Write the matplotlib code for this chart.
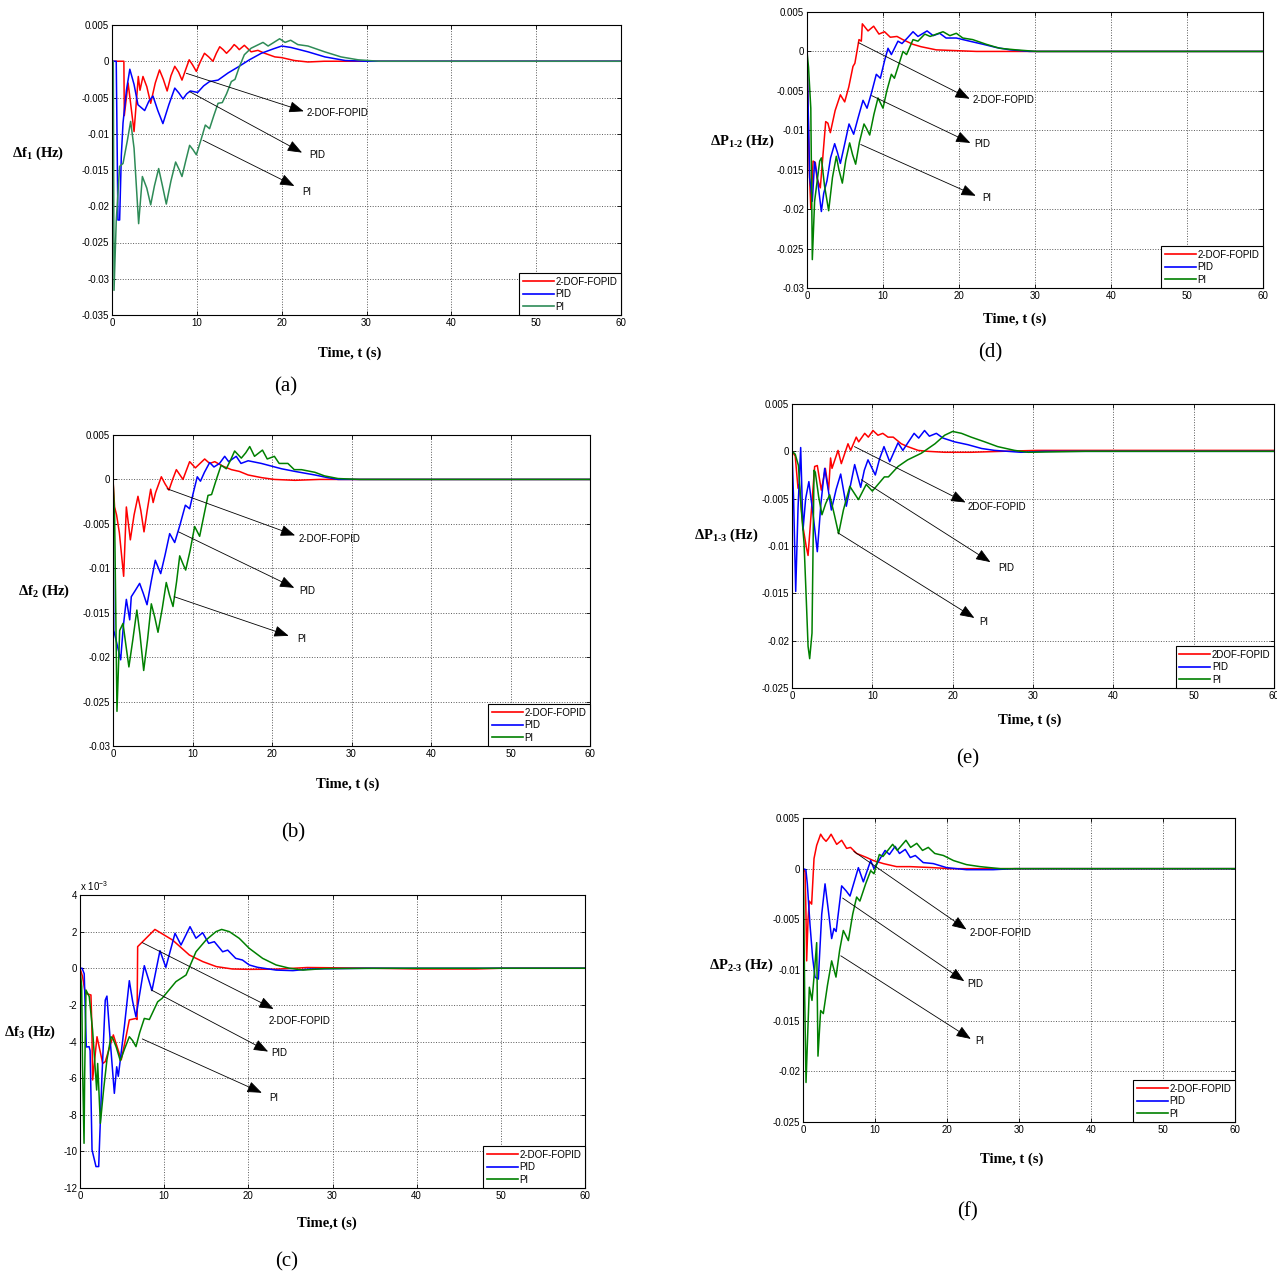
import matplotlib
matplotlib.use('Agg')
import matplotlib.pyplot as plt
from matplotlib.ticker import FixedLocator, FuncFormatter

plt.rcParams['font.family'] = ['Liberation Sans', 'DejaVu Sans']
plt.rcParams['axes.unicode_minus'] = False
plt.rcParams['mathtext.fontset'] = 'custom'
plt.rcParams['mathtext.rm'] = 'Liberation Serif'
plt.rcParams['mathtext.bf'] = 'Liberation Serif:bold'
plt.rcParams['mathtext.it'] = 'Liberation Serif:italic'

# ---------------- DATA (time in s, deviation in Hz; panel c in 1e-3 Hz) -------------
series_names = ['2-DOF-FOPID', 'PID', 'PI']
series_names_e = ['2DOF-FOPID', 'PID', 'PI']
x_ticks = [0, 10, 20, 30, 40, 50, 60]

# (a) delta f1
a_fopid_t = [0, 1.4, 1.45, 1.9, 2.6, 3.1, 3.3, 3.65, 4.1, 4.56, 5.1, 5.6, 6.05, 6.5, 6.95, 7.4, 7.85, 8.25, 8.7, 9.1,
             9.5, 9.94, 10.4, 10.9, 11.4, 11.9, 12.3, 12.7, 13.1, 13.5, 14.0, 14.4, 14.7, 15.0, 15.6, 16.4, 17.2,
             18.0, 19.2, 20.0, 21.5, 23.1, 25.0, 60]
a_fopid_v = [0, 0, -0.0075, -0.003, -0.0097, -0.0021, -0.004, -0.0021, -0.0035, -0.0058, -0.003, -0.0012, -0.0025,
             -0.0041, -0.002, -0.0007, -0.0015, -0.0026, -0.0011, 0.0002, -0.0005, -0.0014, -0.0001, 0.0011, 0.0006,
             0.0, 0.0011, 0.002, 0.0016, 0.0011, 0.0017, 0.0023, 0.002, 0.0016, 0.0022, 0.0013, 0.0015, 0.0011,
             0.0006, 0.0005, 0.0001, -0.0001, 0.0, 0]
a_pid_t = [0, 0.5, 0.7, 0.9, 1.1, 1.3, 1.7, 2.1, 2.6, 3.06, 3.85, 4.35, 4.83, 5.4, 6.0, 6.7, 7.4, 7.9, 8.37, 8.8,
           9.23, 10.1, 10.8, 11.5, 12.5, 13.7, 14.85, 16.2, 17.6, 19.0, 20.0, 21.1, 23.1, 25.1, 27.5, 30.0, 60]
a_pid_v = [0, 0, -0.0219, -0.0219, -0.013, -0.0085, -0.004, -0.0011, -0.0032, -0.006, -0.0068, -0.0055, -0.0048,
           -0.0068, -0.0086, -0.006, -0.0037, -0.0044, -0.0052, -0.0045, -0.0041, -0.0043, -0.0034, -0.0028,
           -0.0026, -0.0016, -0.0008, 0.0002, 0.0011, 0.0017, 0.0021, 0.0019, 0.0013, 0.0006, 0.0001, 0.0, 0]
a_pi_t = [0, 0.15, 0.24, 0.5, 0.9, 1.3, 1.8, 2.2, 2.6, 3.14, 3.58, 4.1, 4.56, 5.0, 5.5, 5.95, 6.4, 6.95, 7.5, 7.9,
          8.25, 8.7, 9.15, 9.55, 9.94, 10.5, 11.0, 11.5, 12.0, 12.5, 13.0, 13.5, 14.07, 14.5, 15.0, 15.6, 16.4, 17.8,
          18.4, 19.76, 20.4, 21.06, 21.9, 23.1, 25.07, 27.0, 29.0, 31.5, 60]
a_pi_v = [0, 0, -0.0316, -0.022, -0.0145, -0.0141, -0.011, -0.0083, -0.012, -0.0224, -0.0159, -0.0175, -0.0198,
          -0.0172, -0.0148, -0.0172, -0.0197, -0.0165, -0.0139, -0.0149, -0.0159, -0.0137, -0.0116, -0.0122,
          -0.0129, -0.0108, -0.0088, -0.0093, -0.0075, -0.0058, -0.0057, -0.0045, -0.0028, -0.0025, -0.0008,
          0.0009, 0.0018, 0.0026, 0.0021, 0.0031, 0.0026, 0.0029, 0.0023, 0.0021, 0.0013, 0.0006, 0.0002, 0, 0]

# (b) delta f2
b_fopid_t = [0, 0.2, 0.45, 0.8, 1.34, 1.68, 2.18, 2.65, 3.14, 3.5, 3.9, 4.3, 4.74, 5.05, 5.35, 6.08, 6.55, 7.04, 7.5,
             7.97, 8.8, 9.64, 10.36, 11.53, 12.16, 12.8, 13.8, 14.9, 15.9, 17.0, 18.7, 20.3, 22.9, 26.0, 60]
b_fopid_v = [0, -0.0031, -0.004, -0.006, -0.0109, -0.0031, -0.0068, -0.004, -0.0019, -0.0035, -0.0059, -0.0035,
             -0.0011, -0.0026, -0.0015, 0.0003, -0.0005, -0.0012, 0.0, 0.0011, 0.0, 0.002, 0.0013, 0.0023, 0.0018,
             0.002, 0.0015, 0.0011, 0.0009, 0.0005, 0.0002, 0.0, -0.0001, 0.0, 0]
b_pid_t = [0, 0.1, 0.96, 1.3, 1.68, 2.1, 2.3, 2.8, 3.35, 3.8, 4.28, 4.8, 5.32, 6.0, 6.55, 7.13, 7.76, 8.4, 9.1, 9.64,
           10.1, 10.6, 11.0, 11.5, 12.16, 12.7, 13.4, 14.05, 14.55, 15.5, 16.1, 17.0, 18.66, 21.2, 22.9, 25.4, 27.0,
           28.3, 60]
b_pid_v = [0, -0.017, -0.0203, -0.0165, -0.0135, -0.0158, -0.0132, -0.0125, -0.0117, -0.0128, -0.0141, -0.0115,
           -0.0091, -0.0106, -0.0085, -0.0061, -0.0071, -0.0052, -0.0029, -0.0033, -0.0015, 0.0003, -0.0002, 0.0008,
           0.0019, 0.0014, 0.0018, 0.0026, 0.002, 0.0026, 0.0018, 0.0021, 0.0018, 0.0012, 0.0009, 0.0005, 0.0002,
           0.0, 0]
b_pi_t = [0, 0.2, 0.5, 0.84, 1.26, 1.6, 2.0, 2.5, 3.0, 3.4, 3.86, 4.35, 4.82, 5.25, 5.66, 6.2, 6.7, 7.1, 7.55, 8.0,
          8.39, 8.8, 9.14, 9.7, 10.27, 10.9, 11.4, 11.95, 12.4, 13.0, 13.6, 14.25, 14.8, 15.3, 16.14, 16.7, 17.2,
          17.8, 18.8, 19.4, 20.3, 20.9, 22.0, 22.8, 23.7, 25.4, 26.6, 28.3, 31.0, 60]
b_pi_v = [0, -0.004, -0.0261, -0.017, -0.0162, -0.0185, -0.0211, -0.018, -0.0147, -0.0175, -0.0215, -0.018, -0.014,
          -0.0155, -0.0172, -0.0145, -0.0116, -0.013, -0.0143, -0.0115, -0.0086, -0.0095, -0.0102, -0.008, -0.0053,
          -0.0064, -0.0042, -0.0018, -0.0017, 0.0, 0.0016, 0.0012, 0.0022, 0.0032, 0.0024, 0.003, 0.0037, 0.0026,
          0.0033, 0.0023, 0.0026, 0.0018, 0.0018, 0.0011, 0.0011, 0.0008, 0.0004, 0.0001, 0.0, 0]

# (c) delta f3  (values in 1e-3 Hz)
c_fopid_t = [0, 0.3, 0.63, 1.3, 1.4, 1.5, 2.02, 2.7, 3.0, 3.96, 4.9, 5.4, 5.86, 6.65, 6.78, 6.85, 8.9, 11.0, 13.0,
             14.6, 16.2, 18.1, 20.1, 23.3, 27.0, 35.0, 40.0, 47.0, 50.0, 60]
c_fopid_v = [0, -0.45, -1.37, -1.46, -3.0, -6.1, -3.74, -5.2, -5.1, -3.64, -5.0, -3.9, -2.82, -2.74, -2.8, 1.18,
             2.12, 1.54, 0.72, 0.36, 0.09, -0.04, -0.06, -0.05, 0.04, 0.0, -0.04, -0.04, 0.0, 0]
c_pid_t = [0, 0.25, 0.5, 0.75, 1.08, 1.2, 1.43, 1.9, 2.22, 2.6, 3.0, 3.2, 3.6, 4.08, 4.36, 4.55, 5.27, 5.86, 6.25,
           6.65, 7.64, 8.55, 9.5, 10.2, 11.29, 12.0, 13.07, 13.78, 14.57, 15.29, 15.96, 16.95, 17.55, 18.5, 19.3,
           20.1, 21.1, 23.3, 25.3, 27.3, 34.0, 60]
c_pid_v = [0, 0, -0.3, -4.3, -4.28, -4.5, -9.92, -10.83, -10.83, -6.0, -1.74, -1.52, -4.0, -6.83, -5.38, -5.9, -3.19,
           -0.68, -1.8, -2.65, 0.14, -1.22, 0.96, 0.05, 1.91, 1.27, 2.27, 1.64, 1.94, 1.36, 1.45, 0.9, 0.99, 0.54,
           0.45, 0.18, 0.05, -0.1, -0.13, -0.04, 0, 0]
c_pi_t = [0, 0.2, 0.3, 0.48, 0.55, 0.71, 1.1, 1.5, 1.98, 2.1, 2.42, 2.8, 3.2, 3.68, 3.9, 4.3, 4.79, 5.3, 5.86, 6.25,
          6.65, 7.1, 7.64, 8.24, 9.23, 9.74, 11.4, 12.6, 13.78, 14.97, 16.16, 16.83, 17.74, 18.93, 20.1, 21.7,
          23.3, 24.9, 26.5, 29.0, 37.0, 60]
c_pi_v = [0, -1.0, -5.3, -9.56, -6.0, -1.19, -1.55, -3.4, -6.65, -5.2, -8.47, -6.65, -5.0, -3.74, -3.83, -4.3,
          -5.05, -4.4, -3.74, -3.95, -4.28, -3.5, -2.74, -2.8, -1.83, -1.65, -0.73, -0.37, 0.9, 1.54, 2.0, 2.12,
          2.0, 1.63, 1.09, 0.54, 0.18, 0.0, -0.1, -0.02, 0, 0]

# (d) delta P1-2
d_fopid_t = [0, 0.3, 0.5, 0.8, 1.1, 1.3, 1.75, 2.46, 2.75, 3.07, 3.7, 4.39, 4.96, 5.5, 6.05, 6.3, 6.84, 7.15, 7.28,
             8.03, 8.77, 9.47, 10.2, 10.96, 11.84, 12.6, 13.95, 15.0, 17.0, 19.6, 22.3, 60]
d_fopid_v = [0, -0.015, -0.0199, -0.0139, -0.0141, -0.016, -0.0173, -0.0089, -0.0091, -0.0103, -0.0075, -0.0055,
             -0.0064, -0.0045, -0.0019, -0.0015, 0.0015, 0.0013, 0.0035, 0.0026, 0.0032, 0.0022, 0.0025, 0.0018,
             0.0019, 0.0015, 0.0009, 0.0006, 0.0002, 0.0001, 0, 0]
d_pid_t = [0, 0.35, 0.7, 1.0, 1.3, 1.89, 2.2, 2.63, 3.1, 3.64, 4.0, 4.39, 4.9, 5.53, 6.14, 6.7, 7.37, 7.9, 8.5, 9.12,
           9.65, 10.2, 10.66, 11.1, 11.97, 12.5, 13.2, 13.95, 14.6, 15.8, 16.6, 17.46, 18.3, 19.65, 21.4, 23.2,
           24.9, 26.7, 29.3, 60]
d_pid_v = [0, -0.016, -0.019, -0.014, -0.0156, -0.0203, -0.018, -0.0164, -0.0135, -0.0117, -0.0128, -0.0142,
           -0.012, -0.0092, -0.0105, -0.0085, -0.0062, -0.0072, -0.0052, -0.0029, -0.0034, -0.0012, 0.0004,
           -0.0004, 0.0013, 0.001, 0.0017, 0.0025, 0.0019, 0.0026, 0.002, 0.0023, 0.0017, 0.0017, 0.0013, 0.0009,
           0.0005, 0.0002, 0.0, 0]
d_pi_t = [0, 0.2, 0.5, 0.7, 1.0, 1.67, 1.89, 2.3, 2.85, 3.35, 3.86, 4.2, 4.65, 5.1, 5.61, 6.0, 6.4, 6.9, 7.5, 7.85,
          8.25, 8.8, 9.34, 10.0, 10.5, 11.1, 11.5, 12.63, 13.1, 13.95, 14.6, 15.5, 16.2, 17.9, 18.8, 19.65, 20.5,
          21.8, 23.6, 25.35, 27.5, 30.2, 60]
d_pi_v = [0, -0.002, -0.0072, -0.0264, -0.019, -0.0139, -0.0135, -0.017, -0.0202, -0.016, -0.0133, -0.015, -0.0167,
          -0.0138, -0.0116, -0.0131, -0.0143, -0.0115, -0.0092, -0.0098, -0.0106, -0.008, -0.0059, -0.0072, -0.005,
          -0.0029, -0.0034, 0.0, -0.0004, 0.0015, 0.0013, 0.0022, 0.0019, 0.0025, 0.002, 0.0023, 0.0017, 0.0015,
          0.0009, 0.0004, 0.0002, 0.0, 0]

# (e) delta P1-3
e_fopid_t = [0, 0.4, 0.75, 0.9, 1.37, 1.78, 2.0, 2.82, 3.15, 3.65, 4.15, 4.56, 4.8, 4.98, 5.73, 6.14, 6.97, 7.3, 8.0,
             8.3, 9.05, 9.5, 10.08, 10.7, 11.3, 11.95, 12.6, 13.6, 14.4, 15.7, 16.9, 19.0, 22.3, 26.1, 30.5, 60]
e_fopid_v = [0, -0.0005, -0.0039, -0.0035, -0.008, -0.0101, -0.011, -0.0016, -0.0015, -0.0041, -0.0018, -0.0041,
             -0.0007, -0.0018, 0.0001, -0.0013, 0.0008, 0.0001, 0.0015, 0.001, 0.0019, 0.0015, 0.0022, 0.0017,
             0.0019, 0.0015, 0.0015, 0.0008, 0.0005, 0.0001, 0.0, -0.0001, -0.0001, 0.0, 0.0001, 0.0001]
e_pid_t = [0, 0.2, 0.46, 0.75, 1.08, 1.37, 1.7, 2.1, 2.6, 3.15, 3.6, 4.07, 4.5, 4.9, 5.5, 6.06, 6.76, 7.3, 7.8, 8.55,
           9.0, 9.46, 10.37, 10.9, 11.45, 12.16, 13.2, 13.8, 15.2, 15.77, 16.5, 17.1, 17.97, 18.8, 20.25, 21.9,
           23.6, 25.2, 28.5, 31.5, 60]
e_pid_v = [0, -0.0051, -0.0148, -0.006, 0.0004, -0.0083, -0.005, -0.0032, -0.0065, -0.0106, -0.0055, -0.0018,
           -0.004, -0.0062, -0.004, -0.0024, -0.0058, -0.0035, -0.0014, -0.0038, -0.002, -0.0009, -0.0025, -0.0008,
           0.0005, -0.0011, 0.0009, 0.0001, 0.0019, 0.0014, 0.0022, 0.0016, 0.0019, 0.0014, 0.001, 0.0007, 0.0003,
           0.0001, -0.0001, 0.0, 0.0]
e_pi_t = [0, 0.4, 0.8, 1.16, 1.5, 1.78, 2.0, 2.2, 2.49, 2.74, 2.9, 3.32, 3.73, 4.2, 4.69, 5.3, 5.8, 6.4, 7.2, 8.27,
          9.24, 10.0, 11.5, 12.0, 13.2, 14.4, 16.1, 17.8, 19.0, 20.0, 21.1, 22.3, 24.0, 25.6, 27.7, 29.4, 36.5, 60]
e_pi_v = [0, -0.0003, -0.0015, -0.0062, -0.0097, -0.0157, -0.0206, -0.0219, -0.0192, -0.002, -0.0022, -0.0048,
          -0.0067, -0.0055, -0.0046, -0.0068, -0.0087, -0.0062, -0.0037, -0.0051, -0.0035, -0.0042, -0.0027,
          -0.0027, -0.0016, -0.0009, -0.0002, 0.0008, 0.0017, 0.0021, 0.0019, 0.0015, 0.001, 0.0005, 0.0001,
          -0.0001, 0.0, 0]

# (f) delta P2-3
f_fopid_t = [0, 0.28, 0.4, 0.51, 0.7, 0.88, 1.2, 1.53, 1.9, 2.45, 2.8, 3.2, 3.55, 3.9, 4.68, 5.37, 6.06, 6.6, 7.45,
             8.15, 8.84, 9.77, 11.16, 13.0, 14.9, 18.1, 20.4, 60]
f_fopid_v = [0, -0.0003, -0.004, -0.0091, -0.005, -0.0032, -0.0035, 0.001, 0.0023, 0.0034, 0.003, 0.0027, 0.003,
             0.0034, 0.0024, 0.0028, 0.002, 0.0021, 0.0015, 0.0013, 0.0011, 0.0008, 0.0005, 0.0002, 0.0002, 0.0001,
             0, 0]
f_pid_t = [0, 0.4, 0.6, 0.97, 1.34, 1.67, 2.13, 2.6, 3.06, 3.5, 3.98, 4.3, 4.6, 5.37, 6.0, 6.53, 7.69, 8.38, 9.4,
           9.86, 11.4, 12.0, 12.8, 13.4, 14.2, 14.9, 15.6, 16.7, 18.1, 19.95, 22.7, 26.4, 29.4, 60]
f_pid_v = [0, -0.0001, -0.0015, -0.0055, -0.0088, -0.0107, -0.0109, -0.0045, -0.0015, -0.004, -0.0069, -0.0059,
           -0.0062, -0.0017, -0.0022, -0.0027, 0.0001, -0.0013, 0.0008, 0.0, 0.0018, 0.0014, 0.0022, 0.0015, 0.0019,
           0.0011, 0.0013, 0.0006, 0.0005, 0.0001, -0.0001, -0.0001, 0, 0]
f_pi_t = [0, 0.1, 0.23, 0.42, 0.88, 1.25, 1.55, 1.9, 2.08, 2.45, 2.82, 3.4, 3.98, 4.58, 5.1, 5.6, 6.3, 6.9, 7.45,
          7.9, 8.7, 9.4, 9.86, 10.6, 11.1, 12.45, 13.1, 14.3, 14.95, 15.8, 16.6, 17.4, 18.3, 19.5, 20.9, 22.7, 24.6,
          27.4, 60]
f_pi_v = [0, -0.0029, -0.0125, -0.0211, -0.0117, -0.013, -0.0105, -0.0073, -0.0185, -0.014, -0.0143, -0.0115,
          -0.0091, -0.0107, -0.008, -0.0061, -0.0071, -0.0045, -0.0028, -0.0032, -0.0015, -0.0002, -0.0005, 0.0014,
          0.0012, 0.0024, 0.0018, 0.0028, 0.0021, 0.0025, 0.0018, 0.0021, 0.0015, 0.0013, 0.0008, 0.0004, 0.0002,
          0, 0]

# annotation arrows: (start t, start v) -> (end t, end v), label at (t, v)
a_arrows = [((8.76, -0.00166), (22.6, -0.0069), (22.9, -0.0072)),
            ((9.16, -0.0042), (22.4, -0.0126), (23.2, -0.0129)),
            ((10.73, -0.0109), (21.5, -0.0172), (22.4, -0.0180))]
b_arrows = [((6.8, -0.00105), (22.9, -0.0063), (23.4, -0.0067)),
            ((8.25, -0.0059), (22.8, -0.0122), (23.4, -0.0126)),
            ((7.7, -0.0132), (22.1, -0.0176), (23.2, -0.0180))]
c_arrows = [((7.4, 1.4), (23.0, -2.22), (22.45, -2.88)),
            ((8.45, -1.18), (22.35, -4.55), (22.7, -4.64)),
            ((7.4, -3.86), (21.6, -6.8), (22.5, -7.07))]
d_arrows = [((6.8, 0.0011), (21.4, -0.0060), (21.8, -0.0062)),
            ((8.5, -0.0056), (21.5, -0.0116), (22.07, -0.0118)),
            ((7.07, -0.0118), (22.2, -0.0183), (23.1, -0.0186))]
e_arrows = [((7.77, 0.0005), (21.6, -0.0054), (21.9, -0.0059)),
            ((8.63, -0.0030), (24.7, -0.0117), (25.7, -0.0123)),
            ((5.7, -0.0086), (22.7, -0.0176), (23.3, -0.0180))]
f_arrows = [((7.06, 0.0017), (22.7, -0.0060), (23.2, -0.0063)),
            ((5.5, -0.0029), (22.4, -0.0111), (22.8, -0.0114)),
            ((5.25, -0.0086), (23.3, -0.0168), (23.9, -0.0170))]

a_yticks = [-0.035, -0.03, -0.025, -0.02, -0.015, -0.01, -0.005, 0, 0.005]
b_yticks = [-0.03, -0.025, -0.02, -0.015, -0.01, -0.005, 0, 0.005]
c_yticks = [-12, -10, -8, -6, -4, -2, 0, 2, 4]
d_yticks = [-0.03, -0.025, -0.02, -0.015, -0.01, -0.005, 0, 0.005]
e_yticks = [-0.025, -0.02, -0.015, -0.01, -0.005, 0, 0.005]
f_yticks = [-0.025, -0.02, -0.015, -0.01, -0.005, 0, 0.005]

# ---------------- LAYOUT ----------------
W, H = 1277, 1275
fig = plt.figure(figsize=(W / 100, H / 100), dpi=100)

RED, BLUE = '#ff0000', '#0000ff'

panels = [
    dict(box=(112, 25, 621, 315), data=[(a_fopid_t, a_fopid_v), (a_pid_t, a_pid_v), (a_pi_t, a_pi_v)],
         arrows=a_arrows, yticks=a_yticks, names=series_names, green='#2e8b57',
         ylab=r'$\mathbf{\Delta f_1\ (Hz)}$', ylab_xy=(38, 153), xlab='Time, t (s)', xlab_xy=(350, 353),
         cap='(a)', cap_xy=(286, 387)),
    dict(box=(113, 435, 590, 746), data=[(b_fopid_t, b_fopid_v), (b_pid_t, b_pid_v), (b_pi_t, b_pi_v)],
         arrows=b_arrows, yticks=b_yticks, names=series_names, green='#008000',
         ylab=r'$\mathbf{\Delta f_2\ (Hz)}$', ylab_xy=(44, 591), xlab='Time, t (s)', xlab_xy=(348, 784),
         cap='(b)', cap_xy=(293, 833)),
    dict(box=(80, 895, 585, 1188), data=[(c_fopid_t, c_fopid_v), (c_pid_t, c_pid_v), (c_pi_t, c_pi_v)],
         arrows=c_arrows, yticks=c_yticks, names=series_names, green='#008000',
         ylab=r'$\mathbf{\Delta f_3\ (Hz)}$', ylab_xy=(30, 1032), xlab='Time,t (s)', xlab_xy=(327, 1223),
         cap='(c)', cap_xy=(287, 1262)),
    dict(box=(807, 12, 1263, 288), data=[(d_fopid_t, d_fopid_v), (d_pid_t, d_pid_v), (d_pi_t, d_pi_v)],
         arrows=d_arrows, yticks=d_yticks, names=series_names, green='#008000',
         ylab=r'$\mathbf{\Delta P_{1\text{-}2}\ (Hz)}$', ylab_xy=(742, 141), xlab='Time, t (s)',
         xlab_xy=(1015, 319), cap='(d)', cap_xy=(990, 353)),
    dict(box=(792, 404, 1274, 688), data=[(e_fopid_t, e_fopid_v), (e_pid_t, e_pid_v), (e_pi_t, e_pi_v)],
         arrows=e_arrows, yticks=e_yticks, names=series_names_e, green='#008000',
         ylab=r'$\mathbf{\Delta P_{1\text{-}3}\ (Hz)}$', ylab_xy=(726, 535), xlab='Time, t (s)',
         xlab_xy=(1030, 720), cap='(e)', cap_xy=(968, 759)),
    dict(box=(803, 818, 1235, 1122), data=[(f_fopid_t, f_fopid_v), (f_pid_t, f_pid_v), (f_pi_t, f_pi_v)],
         arrows=f_arrows, yticks=f_yticks, names=series_names, green='#008000',
         ylab=r'$\mathbf{\Delta P_{2\text{-}3}\ (Hz)}$', ylab_xy=(741, 965), xlab='Time, t (s)',
         xlab_xy=(1012, 1159), cap='(f)', cap_xy=(967, 1212)),
]


def fmt(v, p):
    r = round(v, 5) + 0.0
    if r == 0:
        return '0'
    return f'{r:g}'


def ftext(x, y, s, **kw):
    fig.text(x / W, 1 - y / H, s, ha='center', va='center', **kw)


for P in panels:
    l, t, r, b = P['box']
    ax = fig.add_axes([l / W, 1 - b / H, (r - l) / W, (b - t) / H])
    colors = [RED, BLUE, P['green']]
    for (tt, vv), c, name in zip(P['data'], colors, P['names']):
        assert len(tt) == len(vv), (name, len(tt), len(vv))
        ax.plot(tt, vv, color=c, lw=1.1, label=name, solid_joinstyle='round')
    yt = P['yticks']
    ax.set_xlim(0, 60)
    ax.set_ylim(yt[0], yt[-1])
    ax.xaxis.set_major_locator(FixedLocator(x_ticks))
    ax.yaxis.set_major_locator(FixedLocator(yt))
    ax.yaxis.set_major_formatter(FuncFormatter(fmt))
    ax.xaxis.set_major_formatter(FuncFormatter(fmt))
    ax.tick_params(direction='in', length=3, width=0.6, labelsize=7, top=True, right=True, pad=2)
    ax.grid(True, linestyle=':', color='0.35', linewidth=0.7)
    for s in ax.spines.values():
        s.set_linewidth(0.8)
        s.set_color('black')
    for (s0, e0, lab), name in zip(P['arrows'], P['names']):
        ax.annotate('', xy=e0, xytext=s0,
                    arrowprops=dict(arrowstyle='-|>,head_length=0.9,head_width=0.35', color='black', lw=0.6,
                                    shrinkA=0, shrinkB=0, mutation_scale=10))
        ax.text(lab[0], lab[1], name, fontsize=7, ha='left', va='center')
    leg = ax.legend(loc='lower right', fontsize=7, borderaxespad=0, fancybox=False, edgecolor='black',
                    framealpha=1, handlelength=3.2, handletextpad=0.2, labelspacing=0.25, borderpad=0.35)
    leg.get_frame().set_linewidth(0.8)
    for h in leg.get_lines():
        h.set_linewidth(1.2)
    ftext(*P['ylab_xy'], P['ylab'], fontsize=10.5)
    ftext(*P['xlab_xy'], P['xlab'], fontsize=10.5, family='Liberation Serif', fontweight='bold')
    ftext(*P['cap_xy'], P['cap'], fontsize=15, family='Liberation Serif')

fig.text(80 / W, 1 - 886 / H, r'x 10$^{\mathregular{-3}}$', fontsize=7, ha='left', va='center')

fig.savefig('out.png', dpi=100)
